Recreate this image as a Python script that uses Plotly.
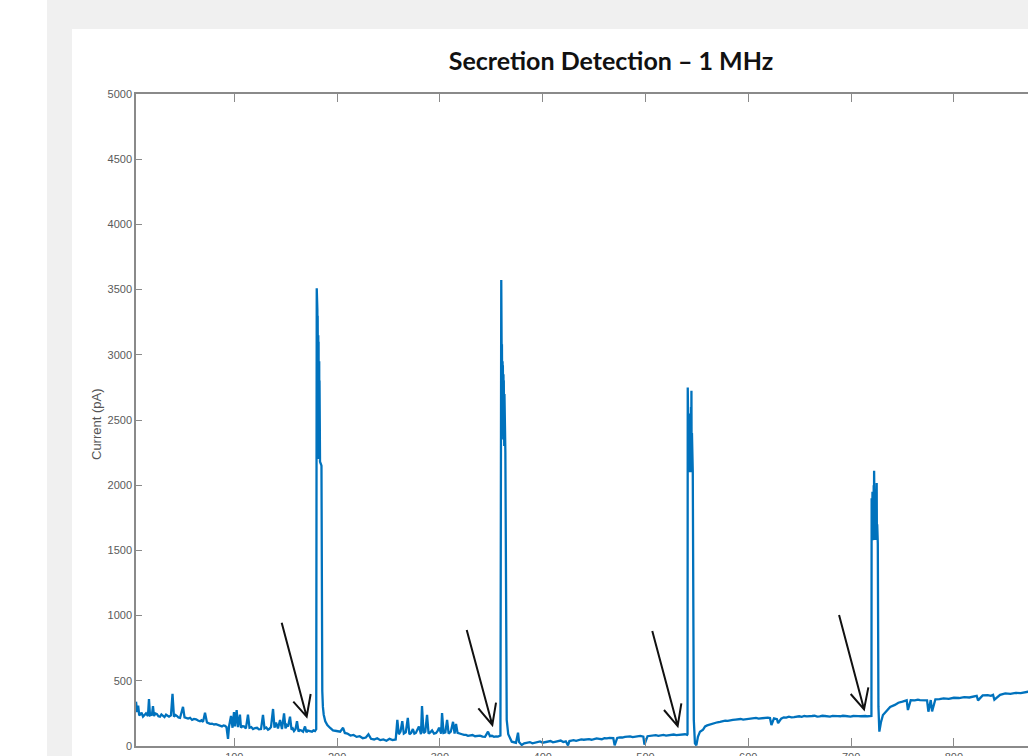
import plotly.graph_objects as go

# ---------------- data ----------------
time_s = [
    4.4, 5.5, 6.5, 7.5, 8.3, 9.8, 11.2, 12.6, 14.1, 16.0, 17.0, 18.0, 19.9, 20.9, 21.9, 23.3, 24.8,
    26.2, 27.7, 29.1, 30.6, 32.1, 33.6, 35.0, 36.5, 38.4, 39.9, 41.3, 42.8, 44.3, 45.7, 47.2,
    50.1, 51.6, 53.3, 55.0, 57.0, 58.9, 60.8, 62.8, 64.7, 66.6, 68.1, 69.6, 71.5,
    73.4, 74.9, 76.4, 78.3, 80.3, 82.2, 84.2, 86.1, 88.0, 89.5, 91.0, 92.4, 93.9, 94.9, 96.8,
    98.3, 99.7, 100.7, 102.3, 103.6,
    105.5, 106.5, 108.0, 109.4, 111.3, 113.3, 114.8, 116.5, 118.2, 120.2, 122.1, 124.0, 126.0,
    127.9, 129.4, 131.1, 132.8, 134.2, 135.7,
    137.7, 139.1, 140.6, 142.5, 144.5, 146.4, 148.4, 149.8, 151.0, 152.3, 154.2, 155.7, 156.9,
    158.1, 159.6, 161.0,
    162.5, 163.7, 164.9, 166.9, 168.8, 170.2, 171.5, 172.7, 174.1, 175.6, 177.0, 178.5, 179.7,
    # spike 1
    180.2, 180.35, 180.5, 180.65, 180.8, 180.95, 181.1, 181.25, 181.4, 181.55, 181.7, 181.85,
    182.0, 182.15, 182.3, 182.45, 182.6, 182.75, 182.9, 183.05, 183.2, 183.4,
    184.8, 185.2, 185.6, 186.2, 187.0, 188.5, 190.5, 193.0, 196.0, 199.5,
    203.0, 205.8, 207.5, 210.0, 213.0, 216.0, 219.0, 222.0, 225.0, 228.0, 230.5, 233.0, 236.0,
    239.0, 242.0, 245.0, 248.0, 251.0, 254.0, 257.0,
    258.6, 260.0, 261.7, 263.4, 264.9, 266.8, 268.8, 270.3, 272.0, 273.7, 275.2, 276.6, 278.1,
    279.6, 281.6, 282.6, 284.1, 285.8, 287.5,
    289.0, 290.7, 292.4, 294.3, 296.3, 297.8, 299.2, 301.2, 302.1, 303.6, 305.3, 307.0, 308.5,
    310.6, 312.8, 314.3, 315.7, 317.2,
    319.3, 321.5, 323.5, 325.4, 327.3, 329.3, 331.7, 334.2, 336.6, 339.0, 341.5, 343.9, 346.8,
    348.7, 350.6, 352.6, 354.6, 356.5, 358.9,
    # spike 2
    359.7, 359.9, 360.05, 360.2, 360.35, 360.5, 360.65, 360.8, 360.95, 361.1, 361.25, 361.4,
    361.55, 361.7, 361.85, 362.0, 362.15, 362.3, 362.45, 362.6, 362.8, 363.7,
    364.3, 365.0, 366.5, 369.9, 374.0, 376.0, 377.0, 379.6, 382.0,
    385.0, 387.5, 390.0, 392.5, 395.0, 397.5, 400.0, 402.5, 405.0, 407.5, 410.0, 412.5, 415.0,
    417.5, 420.0, 422.5, 424.6, 426.0, 428.0, 430.0, 432.5, 435.0, 437.5, 440.0,
    442.5, 445.0, 447.5, 450.0, 452.5, 455.0, 457.5, 460.0, 462.5, 465.0, 468.7, 470.0, 472.5,
    475.0, 477.5, 480.0, 482.5, 485.0, 487.5, 490.0, 492.5, 495.0, 497.9,
    499.0, 502.0, 505.0, 507.5, 510.0, 512.5, 515.0, 517.5, 520.0, 522.5, 525.0, 527.5, 530.0,
    532.5, 535.0, 538.5, 540.5,
    # spike 3
    540.9, 541.1, 541.3, 541.5, 541.7, 541.9, 542.1, 542.3, 542.5, 542.7, 542.9, 543.1, 543.3,
    543.5, 543.7, 543.9, 544.1, 544.3, 544.5, 544.7, 544.9, 545.2,
    546.0, 547.0, 548.1, 549.5, 551.0, 553.0, 556.0, 558.0, 560.0, 562.5, 565.0, 567.5, 570.0,
    572.5, 575.0, 577.5, 580.0, 582.5, 585.0, 587.5, 590.0, 592.5, 595.0, 597.5, 600.0, 602.5,
    605.0, 607.5, 610.0, 612.5, 615.0, 619.0, 621.1, 622.5, 625.0, 627.9,
    629.0, 632.0, 634.5, 637.0, 639.5, 642.0, 644.5, 647.0, 649.5, 652.0, 654.5, 657.0, 659.5,
    662.0, 664.5, 667.0, 669.5, 672.0, 674.5, 677.0, 679.5, 682.0, 684.5, 687.0, 689.5,
    692.0, 694.5, 697.0, 699.5, 702.0, 704.5, 707.0, 709.5, 712.0, 714.0, 716.0, 719.4,
    # spike 4
    719.8, 720.0, 720.2, 720.4, 720.6, 720.8, 721.0, 721.2, 721.4, 721.6, 721.8, 722.0, 722.2,
    722.4, 722.6, 722.8, 723.0, 723.2, 723.4, 723.6, 723.8, 724.0, 724.2, 724.4, 724.7,
    724.9, 725.1, 725.4,
    726.0, 726.6, 727.5, 729.0, 731.0, 734.5, 738.0, 742.6, 746.0,
    750.0, 753.0, 754.1, 755.3, 758.0, 762.0, 765.0, 767.0, 770.0, 772.5, 773.9, 775.2, 777.5,
    778.8, 782.0, 786.0, 790.0, 795.0, 800.0, 805.0, 810.0, 815.0, 820.0, 822.2, 823.5, 828.0,
    833.0, 836.0, 838.1, 839.4, 845.0, 850.0, 855.0, 860.0, 865.0, 868.0, 872.0, 875.0,
]

current_pa = [
    340, 260, 310, 235, 240, 255, 225, 238, 250, 230, 360, 235, 240, 305, 230, 250, 245,
    228, 225, 242, 235, 222, 240, 232, 225, 235, 400, 225, 238, 230, 218, 215,
    300, 220, 212, 210, 216, 200, 208, 205, 195, 190, 198, 185, 255,
    180, 175, 170, 172, 165, 168, 160, 155, 150, 158, 155, 145, 55, 150, 230,
    140, 260, 150, 276, 145,
    240, 140, 152, 150, 135, 240, 140, 145, 130, 138, 140, 128, 130,
    238, 135, 142, 125, 132, 145,
    284, 140, 180, 135, 200, 130, 250, 135, 160, 150, 225, 125, 135,
    115, 130, 190,
    110, 122, 120, 110, 150, 105, 118, 115, 108, 110, 120, 115, 130,
    # spike 1
    3510, 3250, 3420, 2700, 3350, 2500, 3300, 2300, 3250, 2250, 3150, 2400,
    3100, 2200, 3000, 2300, 2950, 2200, 2800, 2250, 2700, 2180,
    2150, 700, 420, 300, 240, 190, 160, 140, 120, 115,
    110, 140, 100, 95, 80, 85, 70, 75, 60, 65, 90, 55, 50,
    60, 45, 50, 40, 55, 45, 50,
    200, 90, 110, 190, 95, 105, 215, 90, 100, 130, 95, 100, 120,
    150, 90, 307, 100, 110, 238,
    95, 105, 120, 95, 100, 115, 140, 95, 253, 100, 105, 200, 95,
    110, 185, 95, 170, 100,
    92, 90, 85, 85, 78, 80, 84, 75, 78, 80, 72, 70, 110,
    75, 78, 70, 74, 72, 80,
    # spike 2
    3574, 3100, 3060, 2500, 3080, 2450, 3000, 2420, 2950, 2400, 2920, 2380,
    2900, 2350, 2850, 2400, 2800, 2350, 2750, 2300, 2700, 2250,
    500, 200, 90, 33, 25, 102, 30, 8, 20,
    25, 30, 20, 26, 28, 35, 25, 30, 33, 38, 28, 32, 35,
    42, 30, 36, 5, 38, 42, 45, 40, 45, 50, 48, 50,
    52, 48, 55, 58, 55, 52, 60, 58, 62, 60, 5, 62, 66,
    65, 70, 70, 74, 68, 72, 75, 78, 72, 10,
    75, 78, 80, 84, 78, 82, 85, 80, 82, 86, 88, 84, 85,
    90, 90, 85, 90,
    # spike 3
    2750, 2350, 2600, 2150, 2550, 2100, 2500, 2200, 2550, 2150, 2450, 2100, 2500,
    2150, 2450, 2100, 2600, 2200, 2725, 2150, 2400, 2100,
    200, 20, 5, 70, 110, 125, 150, 158, 165, 170, 176, 182, 185,
    190, 194, 192, 198, 200, 203, 205, 207, 202, 205, 210, 210, 212,
    215, 210, 212, 216, 218, 215, 161, 212, 205, 175,
    210, 220, 218, 225, 220, 222, 226, 228, 224, 230, 227, 226, 230,
    232, 226, 228, 232, 230, 226, 225, 230, 232, 229, 228, 232,
    230, 227, 226, 230, 232, 229, 228, 231, 230, 228, 225, 230,
    # spike 4
    1900, 1700, 1900, 1600, 1950, 1580, 1950, 1600, 1900, 1580, 2000, 1620, 2111,
    1650, 1925, 1600, 1900, 1580, 1900, 1600, 1950, 1580, 1920, 1600, 2017,
    1580, 1700, 1550,
    300, 110, 180, 238, 270, 300, 315, 332, 340,
    348, 350, 276, 352, 350, 355, 352, 353, 355, 350, 263, 352, 265,
    358, 360, 365, 362, 370, 368, 375, 372, 380, 385, 350, 388, 390,
    385, 392, 355, 392, 404, 400, 408, 405, 412, 416, 414, 418,
]

y_ticks = [0, 500, 1000, 1500, 2000, 2500, 3000, 3500, 4000, 4500, 5000]
x_ticks = [100, 200, 300, 400, 500, 600, 700, 800]

# hand-drawn arrows (data coordinates): tail, tip, and the two arms of the head
arrow_tail_x = [146.1, 326.1, 506.6, 688.3]
arrow_tail_y = [946, 890, 882, 1005]
arrow_tip_x = [170.4, 351.0, 531.3, 712.6]
arrow_tip_y = [225, 161, 153, 281]
arm1_x = [157.4, 337.4, 518.0, 699.6]
arm1_y = [340, 289, 276, 399]
arm2_x = [174.3, 354.6, 534.9, 716.8]
arm2_y = [399, 332, 327, 450]

# ---------------- figure ----------------
W, H = 1028, 756
L, R, T, B = 136, 0, 94, 10
pw, ph = W - L - R, H - T - B


def px_to_paper_x(px):
    return (px - L) / pw


def px_to_paper_y(py):
    return (H - B - py) / ph


fig = go.Figure()
fig.add_trace(go.Scatter(
    x=time_s, y=current_pa, mode="lines",
    line=dict(color="#0072BD", width=2.3),
    hoverinfo="skip", showlegend=False,
))

shapes = []
# light-grey window frame of the screenshot
frame = "#f0f0f0"
shapes.append(dict(type="rect", xref="paper", yref="paper", layer="below",
                   x0=px_to_paper_x(47), x1=px_to_paper_x(W + 5),
                   y0=px_to_paper_y(29), y1=px_to_paper_y(-5),
                   fillcolor=frame, line=dict(width=0)))
shapes.append(dict(type="rect", xref="paper", yref="paper", layer="below",
                   x0=px_to_paper_x(47), x1=px_to_paper_x(72),
                   y0=px_to_paper_y(H + 5), y1=px_to_paper_y(29),
                   fillcolor=frame, line=dict(width=0)))

for i in range(len(arrow_tip_x)):
    path = (f"M {arrow_tail_x[i]},{arrow_tail_y[i]} L {arrow_tip_x[i]},{arrow_tip_y[i]} "
            f"M {arm1_x[i]},{arm1_y[i]} L {arrow_tip_x[i]},{arrow_tip_y[i]} "
            f"L {arm2_x[i]},{arm2_y[i]}")
    shapes.append(dict(type="path", xref="x", yref="y", path=path,
                       line=dict(color="#111111", width=2)))

axis_col = "#8a8a8a"
tick_font = dict(family="Liberation Sans, Arial, sans-serif", size=11, color="#5a5a5a")

fig.update_layout(
    width=W, height=H,
    margin=dict(l=L, r=R, t=T, b=B, pad=0),
    paper_bgcolor="white", plot_bgcolor="white",
    template="none",
    showlegend=False,
    shapes=shapes,
    title=dict(
        text="<b>Secretion Detection – 1 MHz</b>",
        x=px_to_paper_x(611), xref="paper", xanchor="center",
        y=1 - 61 / H, yref="container", yanchor="middle",
        font=dict(family="Lato, Open Sans, sans-serif", size=25, color="#111111"),
    ),
    xaxis=dict(
        range=[4.38, 872.1], autorange=False,
        tickvals=x_ticks, ticktext=[str(v) for v in x_ticks],
        ticks="inside", ticklen=8, tickwidth=1.2, tickcolor=axis_col,
        showline=True, linecolor=axis_col, linewidth=1.5, mirror="ticks",
        showgrid=False, zeroline=False, automargin=False,
        tickfont=tick_font,
    ),
    yaxis=dict(
        range=[0, 5000], autorange=False,
        tickvals=y_ticks, ticktext=[str(v) for v in y_ticks],
        ticks="inside", ticklen=6, tickwidth=1.2, tickcolor=axis_col,
        showline=True, linecolor=axis_col, linewidth=1.5, mirror=False,
        showgrid=False, zeroline=False, automargin=False,
        tickfont=tick_font,
    ),
    annotations=[dict(
        text="Current (pA)", textangle=-90,
        xref="paper", yref="paper",
        x=px_to_paper_x(96), y=px_to_paper_y(424),
        xanchor="center", yanchor="middle", showarrow=False,
        font=dict(family="Liberation Sans, Arial, sans-serif", size=13, color="#555555"),
    )],
)

fig.write_html(
    "out.html",
    config={"displayModeBar": False},
    post_script="document.body.style.margin='0px';document.body.style.overflow='hidden';",
)
